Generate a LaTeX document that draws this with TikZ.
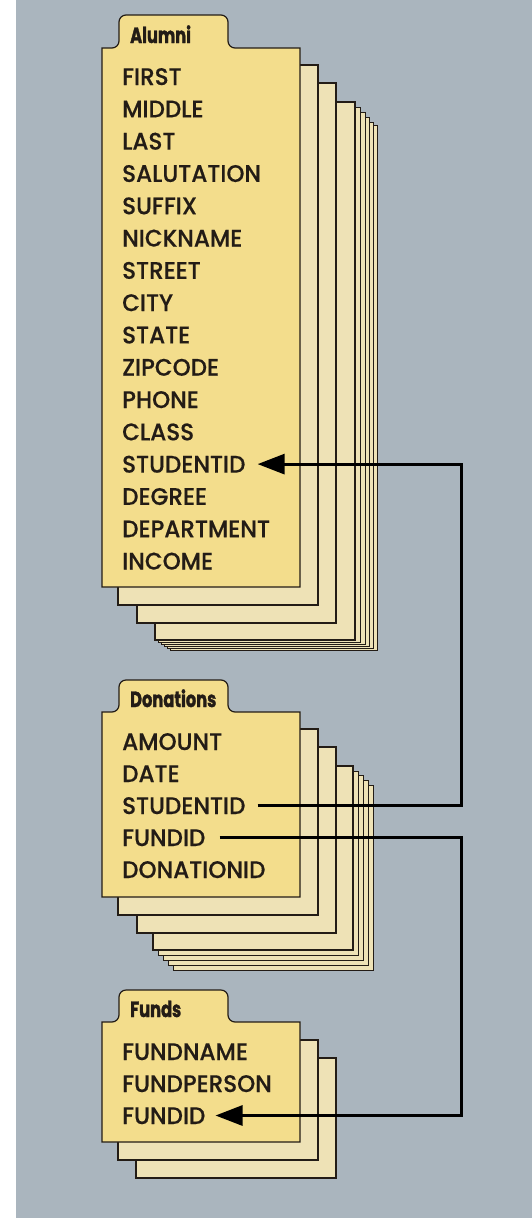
\documentclass[tikz,border=0pt]{standalone}
\usepackage{fontspec}
\usetikzlibrary{arrows.meta}
\IfFontExistsTF{Poppins Medium}
  {\newfontfamily\fieldfont{Poppins Medium}[FakeStretch=0.96,FakeBold=0.4]}
  {\newfontfamily\fieldfont{Poppins}[FakeStretch=0.96,FakeBold=1.2]}
\newfontfamily\titlefont{Poppins}[FakeStretch=0.74,BoldFeatures={FakeBold=1.5}]
\definecolor{bg}{RGB}{170,181,190}
\definecolor{cardfront}{RGB}{243,221,140}
\definecolor{cardback}{RGB}{238,226,182}
\definecolor{ink}{RGB}{35,28,22}
\tikzset{
  cardline/.style={draw=ink, line width=1.2pt, line join=miter},
  frontcard/.style={cardline, fill=cardfront},
  backcard/.style={cardline, fill=cardback},
  thincard/.style={draw=ink, line width=0.8pt, fill=cardback},
  field/.style={anchor=base west, inner sep=0pt, text=ink,
    font=\fieldfont\fontsize{24}{24}\selectfont, text height=17pt, text depth=0pt},
  title/.style={anchor=base west, inner sep=0pt, text=ink,
    font=\titlefont\bfseries\fontsize{22}{22}\selectfont},
  link/.style={draw=black, line width=3pt, line join=miter},
  linkarrow/.style={link, -{Triangle[length=27pt,width=20pt]}},
}
\newcommand\tabcard[5]{%
  \path[frontcard] (#1,#4) -- (#1,#2) [rounded corners=7pt] -- (119,#2) -- (119,#5)
    -- (228,#5) -- (228,#2) [sharp corners] -- (#3,#2) -- (#3,#4) -- cycle;}
\begin{document}
\begin{tikzpicture}[x=1pt,y=-1pt]
\useasboundingbox (0,0) rectangle (532,1218);
\fill[white] (0,0) rectangle (532,1218);
\fill[bg] (16,0) rectangle (532,1218);

% ---------- Alumni stack ----------
\draw[thincard] (170,125) rectangle (377,650);
\draw[thincard] (167,122) rectangle (373,648);
\draw[thincard] (164,117) rectangle (369,646);
\draw[thincard] (161,112) rectangle (365,644);
\draw[thincard] (158,107) rectangle (360,642);
\draw[backcard] (155,102) rectangle (355,640);
\draw[backcard] (137,83) rectangle (336,623);
\draw[backcard] (118,65) rectangle (318,605);
\tabcard{102}{48}{300}{587}{15}
\node[title] (talumni) at (130,43) {Alumni};
\foreach \t [count=\i from 0] in {FIRST,MIDDLE,LAST,SALUTATION,SUFFIX,NICKNAME,STREET,CITY,STATE,ZIPCODE,PHONE,CLASS,STUDENTID,DEGREE,DEPARTMENT,INCOME}
  \node[field] (a\i) at (122,{85+32.3*\i}) {\t};

% ---------- Donations stack ----------
\draw[thincard] (173,785) rectangle (373,970);
\draw[thincard] (168,780) rectangle (368,965);
\draw[thincard] (163,775) rectangle (363,960);
\draw[thincard] (158,771) rectangle (358,955);
\draw[backcard] (153,766) rectangle (353,950);
\draw[backcard] (137,747) rectangle (336,933);
\draw[backcard] (118,729) rectangle (318,915);
\tabcard{102}{712}{300}{897}{680}
\node[title] (tdon) at (130,707) {Donations};
\foreach \t [count=\i from 0] in {AMOUNT,DATE,STUDENTID,FUNDID,DONATIONID}
  \node[field] (d\i) at (122,{750+32*\i}) {\t};

% ---------- Funds stack ----------
\draw[backcard] (136,1058) rectangle (336,1178);
\draw[backcard] (118,1040) rectangle (318,1160);
\tabcard{102}{1022}{300}{1142}{990}
\node[title] (tfunds) at (130,1017) {Funds};
\foreach \t [count=\i from 0] in {FUNDNAME,FUNDPERSON,FUNDID}
  \node[field] (f\i) at (122,{1060+32*\i}) {\t};

% ---------- connectors ----------
\coordinate (busx) at (461,0);
\draw[linkarrow] ([xshift=12pt]d2.east) -- (d2.east -| busx) -- (a12.east -| busx) -- ([xshift=12pt]a12.east);
\draw[linkarrow] ([xshift=14pt]d3.east) -- (d3.east -| busx) -- (f2.east -| busx) -- ([xshift=10pt]f2.east);
\end{tikzpicture}
\end{document}
